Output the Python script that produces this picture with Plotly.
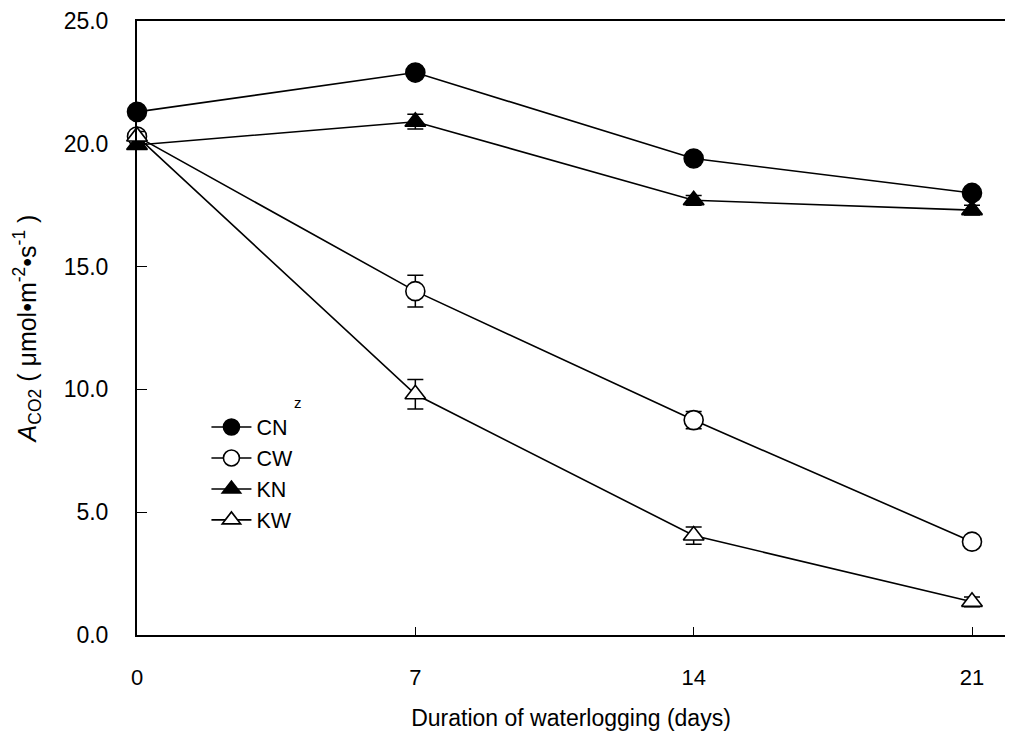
import plotly.graph_objects as go

days = [0, 7, 14, 21]
x_ticks = [0, 7, 14, 21]
y_ticks = [0, 5, 10, 15, 20, 25]
y_tick_labels = ["0.0", "5.0", "10.0", "15.0", "20.0", "25.0"]

cn = [21.3, 22.9, 19.4, 18.0]
cn_err = [0.15, 0.15, 0.15, 0.15]
cw = [20.3, 14.0, 8.75, 3.8]
cw_err = [0.2, 0.65, 0.35, 0.2]
kn = [19.95, 20.9, 17.7, 17.3]
kn_err = [0.15, 0.3, 0.2, 0.2]
kw = [20.3, 9.8, 4.05, 1.35]
kw_err = [0.2, 0.6, 0.35, 0.2]

series = [
    ("CN", cn, cn_err, "circle", "black"),
    ("CW", cw, cw_err, "circle", "white"),
    ("KN", kn, kn_err, "triangle-up", "black"),
    ("KW", kw, kw_err, "triangle-up", "white"),
]

fig = go.Figure()
for name, vals, errs, sym, fill in series:
    fig.add_trace(go.Scatter(
        x=days, y=vals, name=name, mode="lines+markers",
        line=dict(color="black", width=1.6),
        marker=dict(symbol=sym, size=19 if sym == "circle" else 18, color=fill,
                    line=dict(color="black", width=1.6)),
        error_y=dict(type="data", array=errs, visible=True, color="black", thickness=1.5, width=8),
        cliponaxis=False,
    ))

fig.add_annotation(x=0.1786, y=0.379, xref="paper", yref="paper", text="z", showarrow=False,
                   font=dict(size=15, color="black", family="Liberation Sans"))

fig.update_layout(
    width=1009, height=738,
    margin=dict(l=137, r=4, t=21, b=103),
    paper_bgcolor="white", plot_bgcolor="white",
    font=dict(family="Liberation Sans, Arial", size=24, color="black"),
    showlegend=True,
    legend=dict(x=0.08, y=0.372, xanchor="left", yanchor="top", bgcolor="rgba(0,0,0,0)",
                font=dict(size=21.5), itemwidth=40),
    xaxis=dict(range=[0, 21.83], tickvals=x_ticks, ticktext=[str(t) for t in x_ticks],
               showline=True, linecolor="black", linewidth=2, mirror=True,
               ticks="inside", ticklen=8, tickcolor="black", showgrid=False, zeroline=False,
               ticklabelstandoff=22, tickfont=dict(size=22),
               title=dict(text="Duration of waterlogging (days)", standoff=20, font=dict(size=23))),
    yaxis=dict(range=[0, 25], tickvals=y_ticks, ticktext=y_tick_labels,
               showline=True, linecolor="black", linewidth=2, mirror=False,
               ticks="inside", ticklen=10, tickcolor="black", showgrid=False, zeroline=False,
               ticklabelstandoff=22, tickfont=dict(size=23),
               title=dict(text="<i>A</i><sub>CO2</sub> ( μmol•m<sup>-2</sup>•s<sup>-1</sup> )", standoff=20, font=dict(size=25))),
)

fig.write_html("out.html")
